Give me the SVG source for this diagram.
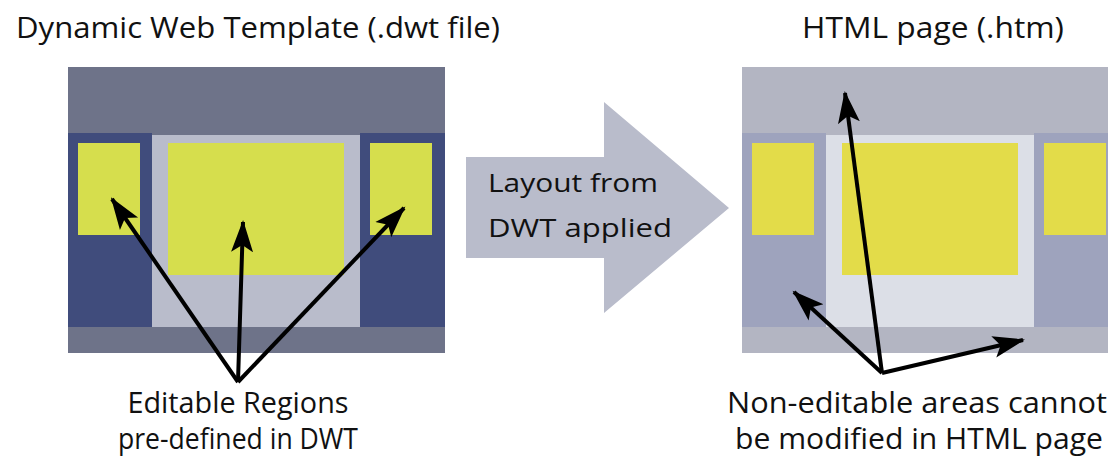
<svg xmlns="http://www.w3.org/2000/svg" width="1110" height="462" viewBox="0 0 1110 462">
<style>
text{font-family:"Open Sans","Liberation Sans",sans-serif;fill:#111}
.t{font-size:29px}
.b{font-size:26px}
.c{stroke:#000;stroke-width:4;fill:none;marker-end:url(#ah)}
</style>
<defs>
<marker id="ah" markerUnits="userSpaceOnUse" markerWidth="34" markerHeight="24" refX="30" refY="12" orient="auto" viewBox="0 0 34 24">
<path d="M0,1 L32,12 L0,23 L7,12 Z" fill="#000"/>
</marker>
</defs>
<rect width="1110" height="462" fill="#fff"/>
<g id="title-dwt"><text class="t" x="16" y="38" textLength="484" lengthAdjust="spacingAndGlyphs">Dynamic Web Template (.dwt file)</text></g>
<g id="title-htm"><text class="t" x="802" y="38" textLength="262" lengthAdjust="spacingAndGlyphs">HTML page (.htm)</text></g>
<g id="dwt-panel">
<rect x="68" y="67" width="377" height="286" fill="#6e7389"/>
<rect x="68" y="133" width="84" height="194" fill="#404c7c"/>
<rect x="360" y="133" width="85" height="194" fill="#404c7c"/>
<rect x="152" y="135" width="208" height="192" fill="#b9bccb"/>
<rect x="78" y="143" width="62" height="92" fill="#d6de4d"/>
<rect x="168" y="143" width="176" height="132" fill="#d6de4d"/>
<rect x="370" y="143" width="62" height="92" fill="#d6de4d"/>
</g>
<g id="htm-panel">
<rect x="742" y="67" width="366" height="286" fill="#b3b5c2"/>
<rect x="742" y="133" width="84" height="194" fill="#9ea3bd"/>
<rect x="1034" y="133" width="74" height="194" fill="#9ea3bd"/>
<rect x="826" y="135" width="208" height="192" fill="#dcdfe7"/>
<rect x="752" y="143" width="62" height="92" fill="#e3dc49"/>
<rect x="842" y="143" width="176" height="132" fill="#e3dc49"/>
<rect x="1044" y="143" width="62" height="92" fill="#e3dc49"/>
</g>
<g id="big-arrow">
<polygon points="466,157 604,157 604,102 729,208 604,313 604,258 466,258" fill="#b9bccb"/>
<text class="b" x="488" y="192" textLength="170" lengthAdjust="spacingAndGlyphs">Layout from</text>
<text class="b" x="488" y="237" textLength="184" lengthAdjust="spacingAndGlyphs">DWT applied</text>
</g>
<g id="label-editable">
<text class="t" x="238" y="413" text-anchor="middle" textLength="221" lengthAdjust="spacingAndGlyphs">Editable Regions</text>
<text class="t" x="238" y="449" text-anchor="middle" textLength="240" lengthAdjust="spacingAndGlyphs">pre-defined in DWT</text>
</g>
<g id="label-noneditable">
<text class="t" x="917" y="413" text-anchor="middle" textLength="380" lengthAdjust="spacingAndGlyphs">Non-editable areas cannot</text>
<text class="t" x="919" y="449" text-anchor="middle" textLength="368" lengthAdjust="spacingAndGlyphs">be modified in HTML page</text>
</g>
<g id="connectors">
<line class="c" x1="238" y1="382" x2="112" y2="199"/>
<line class="c" x1="238" y1="382" x2="243" y2="222"/>
<line class="c" x1="238" y1="382" x2="404" y2="208"/>
<line class="c" x1="882" y1="373" x2="845" y2="93"/>
<line class="c" x1="882" y1="373" x2="794" y2="292"/>
<line class="c" x1="882" y1="373" x2="1023" y2="340"/>
</g>
</svg>
